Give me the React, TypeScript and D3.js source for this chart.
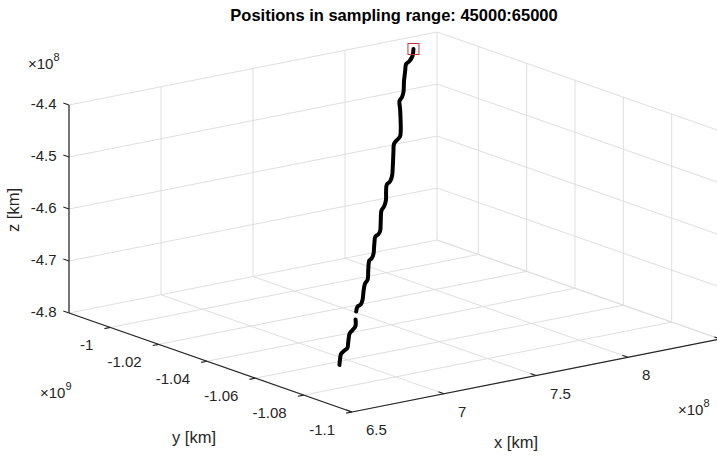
import React from 'react';
import * as d3 from 'd3';

const titleText = 'Positions in sampling range: 45000:65000';
const xTicks = [6.5, 7, 7.5, 8, 8.5]; // ×1e8 km
const yTicks = [-1, -1.02, -1.04, -1.06, -1.08, -1.1]; // ×1e9 km
const zTicks = [-4.8, -4.7, -4.6, -4.5, -4.4]; // ×1e8 km
const xLim = [6.5, 8.5];
const yLim = [-1.1, -0.9829];
const zLim = [-4.8, -4.4];

// trajectory (×1e8 km, ×1e9 km, ×1e8 km); null = gap in samples
const posX = [8.3261, 8.2972, 8.2641, 8.2350, 8.2061, 8.1671, 8.1274, 8.1024, 8.0754, 8.0513, 8.0171, 7.9851, 7.9589, 7.9265, 7.9011, 7.8705, 7.8241, 7.7828, 7.7535, 7.7254, 7.6965, 7.6696, 7.6369, 7.6099, 7.5703, 7.5329, 7.5102, 7.4889, 7.4549, 7.4192, 7.3943, 7.3756, 7.3383, 7.3021, 7.2750, 7.2451, 7.2060, 7.1801, 7.1564, 7.1337, null, 7.1025, 7.0796, 7.0509, 7.0246, 6.9895, 6.9622, 6.9342, 6.9078, 6.8823, 6.8627];
const posY = [-0.9864, -0.9882, -0.9895, -0.9903, -0.9921, -0.9946, -0.9974, -0.9987, -0.9997, -1.0018, -1.0046, -1.0071, -1.0088, -1.0098, -1.0107, -1.0128, -1.0161, -1.0189, -1.0203, -1.0211, -1.0230, -1.0250, -1.0267, -1.0277, -1.0304, -1.0330, -1.0339, -1.0344, -1.0365, -1.0389, -1.0400, -1.0405, -1.0429, -1.0454, -1.0464, -1.0481, -1.0506, -1.0518, -1.0523, -1.0535, null, -1.0556, -1.0573, -1.0583, -1.0591, -1.0612, -1.0629, -1.0636, -1.0644, -1.0659, -1.0672];
const posZ = [-4.4148, -4.4233, -4.4285, -4.4310, -4.4395, -4.4518, -4.4656, -4.4714, -4.4756, -4.4859, -4.5001, -4.5129, -4.5209, -4.5247, -4.5281, -4.5381, -4.5544, -4.5681, -4.5743, -4.5769, -4.5861, -4.5963, -4.6038, -4.6079, -4.6210, -4.6334, -4.6371, -4.6386, -4.6491, -4.6601, -4.6652, -4.6669, -4.6786, -4.6903, -4.6945, -4.7022, -4.7145, -4.7195, -4.7211, -4.7268, null, -4.7366, -4.7448, -4.7488, -4.7520, -4.7619, -4.7697, -4.7723, -4.7750, -4.7822, -4.7884];

const FONT = '"Liberation Sans", Arial, Helvetica, sans-serif';
const GRID = '#dedede';
const AXIS = '#262626';
const TEXT = '#262626';

export default function App() {
  const W = 717, H = 456;
  const origin = { x: 69, y: 313 };
  const ex = { x: 368, y: -73 };
  const ey = { x: 283, y: 99 };
  const ezH = 208;
  const sx = d3.scaleLinear().domain(xLim).range([0, 1]);
  const sy = d3.scaleLinear().domain([yLim[1], yLim[0]]).range([0, 1]);
  const sz = d3.scaleLinear().domain(zLim).range([0, 1]);
  const proj = (x: number, y: number, z: number): [number, number] => {
    const u = sx(x), v = sy(y), w = sz(z);
    return [origin.x + ex.x * u + ey.x * v, origin.y + ex.y * u + ey.y * v - ezH * w];
  };
  const [x0, x1] = xLim;
  const [yMin, yMax] = yLim;
  const [z0, z1] = zLim;

  const grid: [number, number][][] = [];
  xTicks.forEach(x => {
    grid.push([proj(x, yMin, z0), proj(x, yMax, z0)]);
    grid.push([proj(x, yMax, z0), proj(x, yMax, z1)]);
  });
  yTicks.forEach(y => {
    grid.push([proj(x0, y, z0), proj(x1, y, z0)]);
    grid.push([proj(x1, y, z0), proj(x1, y, z1)]);
  });
  zTicks.forEach(z => {
    grid.push([proj(x0, yMax, z), proj(x1, yMax, z)]);
    grid.push([proj(x1, yMin, z), proj(x1, yMax, z)]);
  });

  const axes: [number, number][][] = [
    [proj(x0, yMax, z0), proj(x0, yMax, z1)],
    [proj(x0, yMax, z0), proj(x0, yMin, z0)],
    [proj(x0, yMin, z0), proj(x1, yMin, z0)],
  ];

  const nEy = Math.hypot(ey.x, ey.y), nEx = Math.hypot(ex.x, ex.y);
  const tl = 6;
  const tyDir = [-ey.x / nEy * tl, -ey.y / nEy * tl];
  const txDir = [-ex.x / nEx * tl, -ex.y / nEx * tl];

  const pts = posX.map((x, i) => ({ x, y: posY[i], z: posZ[i] }));
  const line = d3.line<any>()
    .defined(d => d.x != null && d.y != null && d.z != null)
    .x(d => proj(d.x, d.y, d.z)[0])
    .y(d => proj(d.x, d.y, d.z)[1])
    .curve(d3.curveCatmullRom);
  const start = proj(posX[0] as number, posY[0] as number, posZ[0] as number);
  const ms = 11;

  return (
    <svg width={W} height={H} style={{ position: 'absolute', left: 0, top: 0, background: '#fff' }} fontFamily={FONT}>
      <rect x={0} y={0} width={W} height={H} fill="#fff" />
      {grid.map((g, i) => (
        <line key={'g' + i} x1={g[0][0]} y1={g[0][1]} x2={g[1][0]} y2={g[1][1]} stroke={GRID} strokeWidth={1} />
      ))}
      {axes.map((a, i) => (
        <line key={'a' + i} x1={a[0][0]} y1={a[0][1]} x2={a[1][0]} y2={a[1][1]} stroke={AXIS} strokeWidth={1.2} />
      ))}
      {zTicks.map(z => {
        const p = proj(x0, yMax, z);
        return (
          <g key={'zt' + z}>
            <line x1={p[0]} y1={p[1]} x2={p[0] + tyDir[0]} y2={p[1] + tyDir[1]} stroke={AXIS} strokeWidth={1.2} />
            <text x={p[0] - 12.5} y={p[1] - 2} textAnchor="end" dominantBaseline="central" fontSize={15} fill={TEXT}>{String(z)}</text>
          </g>
        );
      })}
      {yTicks.map(y => {
        const p = proj(x0, y, z0);
        return (
          <g key={'yt' + y}>
            <line x1={p[0]} y1={p[1]} x2={p[0] + txDir[0]} y2={p[1] + txDir[1]} stroke={AXIS} strokeWidth={1.2} />
            <text x={p[0] - 17} y={p[1] + 17.5} textAnchor="end" dominantBaseline="central" fontSize={15} fill={TEXT}>{String(y)}</text>
          </g>
        );
      })}
      {xTicks.map(x => {
        const p = proj(x, yMin, z0);
        const inView = p[0] + 14 + 20 < W;
        return (
          <g key={'xt' + x}>
            <line x1={p[0]} y1={p[1]} x2={p[0] + tyDir[0]} y2={p[1] + tyDir[1]} stroke={AXIS} strokeWidth={1.2} />
            {inView && (
              <text x={p[0] + 14} y={p[1] + 17.5} textAnchor="start" dominantBaseline="central" fontSize={15} fill={TEXT}>{String(x)}</text>
            )}
          </g>
        );
      })}
      <text x={28} y={69} fontSize={15} fill={TEXT}>×10<tspan dy={-8} fontSize={11}>8</tspan></text>
      <text x={40} y={398} fontSize={15} fill={TEXT}>×10<tspan dy={-8} fontSize={11}>9</tspan></text>
      <text x={678} y={415} fontSize={15} fill={TEXT}>×10<tspan dy={-8} fontSize={11}>8</tspan></text>
      <text transform="translate(19,210) rotate(-90)" textAnchor="middle" fontSize={16.5} fill={TEXT}>z [km]</text>
      <text x={194} y={443} textAnchor="middle" fontSize={16.5} fill={TEXT}>y [km]</text>
      <text x={516} y={448} textAnchor="middle" fontSize={16.5} fill={TEXT}>x [km]</text>
      <path d={line(pts) || ''} fill="none" stroke="#000" strokeWidth={4} strokeLinejoin="round" strokeLinecap="round" />
      <rect x={start[0] - ms / 2} y={start[1] - ms / 2} width={ms} height={ms} fill="none" stroke="#c83232" strokeWidth={1} />
      <text x={394} y={21} textAnchor="middle" fontSize={16.5} fontWeight="bold" fill="#000">{titleText}</text>
    </svg>
  );
}
